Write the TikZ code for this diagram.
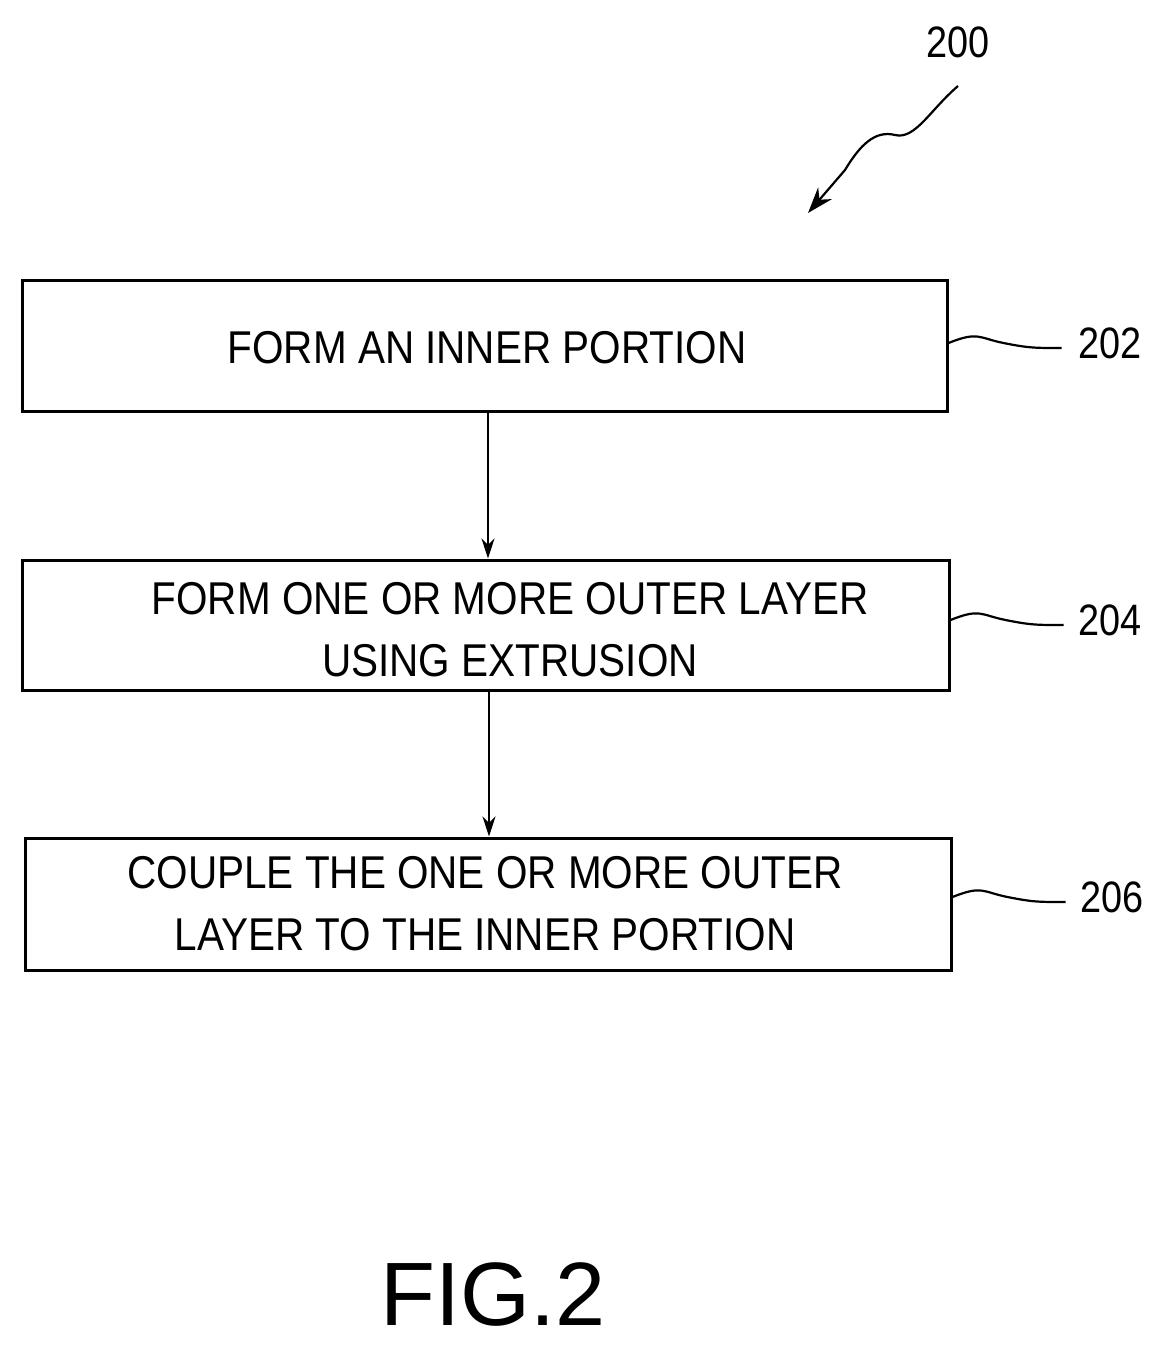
\documentclass[tikz,border=0pt]{standalone}
\usepackage{fontspec}
\setmainfont{Liberation Sans}
\usetikzlibrary{arrows.meta}
\begin{document}
\begin{tikzpicture}[x=1pt,y=-1pt,
  stepbox/.style={draw,line width=3pt,inner sep=0pt},
  txt/.style={font=\fontsize{46}{62}\selectfont,align=center,xscale=0.88},
  lbl/.style={font=\fontsize{44}{50}\selectfont,xscale=0.86},
  arr/.style={line width=2pt,-{Stealth[length=20pt,width=13pt]}},
  sq/.style={line width=2.2pt}]
\useasboundingbox (0,0) rectangle (1165,1348);
\node[stepbox,minimum width=925pt,minimum height=131pt] (b1) at (484.5,345.5) {};
\node[txt] (t1) at (487,348) {FORM AN INNER PORTION};
\node[stepbox,minimum width=927pt,minimum height=130pt] (b2) at (485.5,625) {};
\node[txt] (t2) at (510,630) {FORM ONE OR MORE OUTER LAYER\\USING EXTRUSION};
\node[stepbox,minimum width=926pt,minimum height=132pt] (b3) at (488,904) {};
\node[txt] (t3) at (485,904) {COUPLE THE ONE OR MORE OUTER\\LAYER TO THE INNER PORTION};
\draw[arr] (b1.south -| 488,0) -- (b2.north -| 488,0);
\draw[arr] (b2.south -| 489,0) -- (b3.north -| 489,0);
\node[lbl] (l1) at (1110,343) {202};
\node[lbl] (l2) at (1110,620) {204};
\node[lbl] (l3) at (1112,897) {206};
\coordinate (c1) at (b1.east |- 0,343);
\coordinate (c2) at (b2.east |- 0,620);
\coordinate (c3) at (b3.east |- 0,897);
\foreach \c/\l in {c1/l1,c2/l2,c3/l3}
  \draw[sq] (\c) .. controls +(30,-12) and +(-25,-5) .. ++(55,0) .. controls +(25,5) and +(-25,0) .. ++(56,5) -- ++(2,0);
\node[lbl] (n200) at (958,42) {200};
\coordinate (s) at (958,86);
\draw[sq,-{Stealth[length=26pt,width=18pt]}] (s) .. controls (930,110) and (915,140) .. (895,135) .. controls (875,130) and (860,145) .. (845,170) -- (808,213);
\node[font=\fontsize{90}{100}\selectfont] (fig) at (493,1295) {FIG.2};
\end{tikzpicture}
\end{document}
